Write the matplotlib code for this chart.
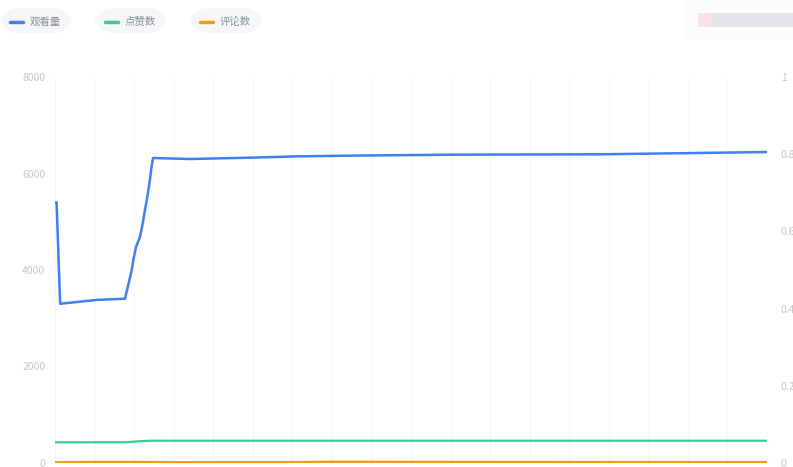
import matplotlib
matplotlib.use("Agg")
import matplotlib.pyplot as plt
from matplotlib.patches import FancyBboxPatch, Rectangle
import numpy as np

plt.rcParams['font.family'] = ['Noto Sans CJK SC', 'DejaVu Sans']

# ---- data ----
series_names = ["观看量", "点赞数", "评论数"]
series_colors = ["#3f7fef", "#3ecb8f", "#f29a11"]

views_x = [0, 0.4, 1.3, 10.5, 17.7, 19.4, 19.8, 20.5, 21.5, 22.2, 22.6, 23.2, 24.0, 24.4, 24.8,
           34.1, 49.3, 61.9, 74.6, 99.8, 137.8, 158, 180]
views_y = [5400, 5400, 3300, 3380, 3405, 4000, 4207, 4483, 4690, 4974, 5181, 5451, 5865, 6141, 6321,
           6300, 6328, 6356, 6370, 6390, 6398, 6420, 6445]

likes_x = [0, 17.5, 19, 22, 24, 60, 120, 180]
likes_y = [429, 430, 435, 455, 462, 462, 462, 462]

comments_x = [0, 8, 20, 30, 60, 70, 80, 100, 140, 180]
comments_y = [5, 15, 15, 8, 10, 20, 18, 15, 12, 10]

left_ticks = [0, 2000, 4000, 6000, 8000]
right_ticks = [0, 0.2, 0.4, 0.6, 0.8, 1]
right_labels = ["0", "0.2", "0.4", "0.6", "0.8", "1"]
grid_x = list(range(0, 181, 10))

# ---- figure ----
W, H = 793, 467
fig = plt.figure(figsize=(W / 100, H / 100), dpi=100)
fig.patch.set_facecolor("white")

L, R, T, B = 55, 767, 77, 463
ax = fig.add_axes([L / W, (H - B) / H, (R - L) / W, (B - T) / H])
ax.set_xlim(0, 180)
ax.set_ylim(0, 8000)
for gx in grid_x:
    ax.axvline(gx, color="#f7f7f9", lw=0.8, zorder=0)
for s in ax.spines.values():
    s.set_visible(False)
ax.set_xticks([])
ax.set_yticks(left_ticks)
ax.set_yticklabels([str(t) for t in left_ticks])
ax.tick_params(axis="y", length=0, pad=7, labelsize=7.5, labelcolor="#c3c5ca")

ax.plot(likes_x, likes_y, color=series_colors[1], lw=1.6, zorder=3, solid_capstyle="round")
ax.plot(comments_x, comments_y, color=series_colors[2], lw=2.2, zorder=4, solid_capstyle="round")
ax.plot(views_x, views_y, color=series_colors[0], lw=1.8, zorder=5, solid_capstyle="round",
        solid_joinstyle="round")

ax2 = ax.twinx()
ax2.set_ylim(0, 1)
ax2.set_yticks(right_ticks)
ax2.set_yticklabels(right_labels)
ax2.tick_params(axis="y", length=0, pad=10, labelsize=7.5, labelcolor="#c3c5ca")
for s in ax2.spines.values():
    s.set_visible(False)

# ---- legend pills ----
pills = [(0, 72), (95, 167), (190, 262)]
for (x0, x1), name, col in zip(pills, series_names, series_colors):
    y0, y1 = 8, 33
    p = FancyBboxPatch((x0 / W, 1 - y1 / H), (x1 - x0) / W, (y1 - y0) / H,
                       boxstyle="round,pad=0,rounding_size=0.025",
                       transform=fig.transFigure, facecolor="#f5f6f8", edgecolor="none",
                       mutation_aspect=W / H)
    fig.add_artist(p)
    cy = 1 - 21.5 / H
    fig.add_artist(plt.Line2D([(x0 + 10) / W, (x0 + 23) / W], [cy, cy], transform=fig.transFigure,
                              color=col, lw=2.5, solid_capstyle="round"))
    fig.text((x0 + 30) / W, cy, name, fontsize=7.5, color="#8a8e96", va="center", ha="left")

# blurred element top right
fig.add_artist(Rectangle((682 / W, 1 - 40 / H), 111 / W, 40 / H, transform=fig.transFigure,
                         facecolor="#fcfcfd", edgecolor="none"))
fig.add_artist(Rectangle((698 / W, 1 - 27 / H), 14 / W, 14 / H, transform=fig.transFigure,
                         facecolor="#f4e3e2", edgecolor="none"))
fig.add_artist(Rectangle((712 / W, 1 - 27 / H), 81 / W, 14 / H, transform=fig.transFigure,
                         facecolor="#e5e6eb", edgecolor="none"))

fig.savefig("out.png", dpi=100, facecolor="white")
